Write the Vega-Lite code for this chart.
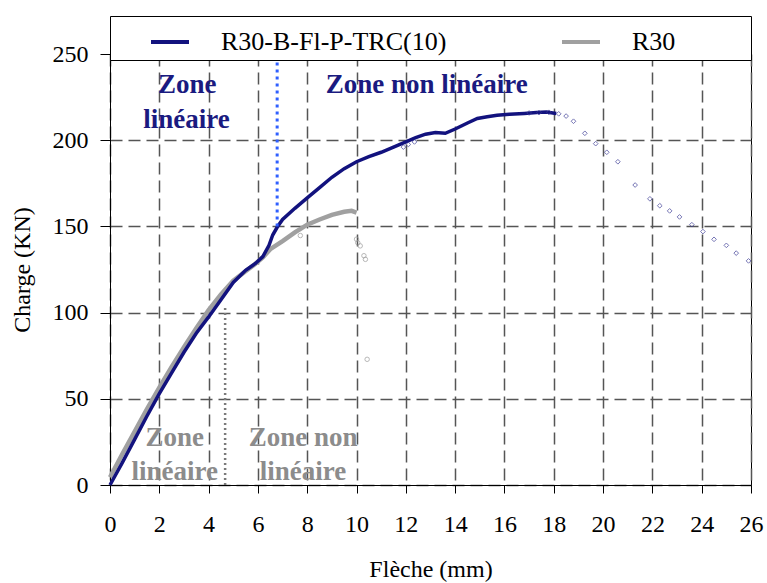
{
  "$schema": "https://vega.github.io/schema/vega-lite/v6.json",
  "width": 641,
  "height": 431,
  "autosize": {"type": "none"},
  "padding": {"left": 110, "top": 54, "right": 16, "bottom": 98},
  "background": "white",
  "config": {
    "font": "Liberation Serif",
    "view": {"stroke": "black", "strokeWidth": 1},
    "axis": {
      "labelFont": "Liberation Serif",
      "titleFont": "Liberation Serif",
      "labelFontSize": 24,
      "titleFontSize": 24,
      "titleFontWeight": "normal",
      "labelColor": "black",
      "titleColor": "black",
      "domainColor": "black",
      "tickColor": "black",
      "gridColor": "#555555",
      "gridDash": [12, 6],
      "gridWidth": 1.5,
      "labelFlush": false,
      "labelOverlap": false
    }
  },
  "datasets": {
    "curves": [
      {"series": "R30", "x": 0, "y": 4.5},
      {"series": "R30", "x": 0.5, "y": 18},
      {"series": "R30", "x": 1, "y": 31},
      {"series": "R30", "x": 1.5, "y": 44},
      {"series": "R30", "x": 2, "y": 56.5},
      {"series": "R30", "x": 2.5, "y": 68.5},
      {"series": "R30", "x": 3, "y": 80},
      {"series": "R30", "x": 3.5, "y": 91},
      {"series": "R30", "x": 4, "y": 101.5},
      {"series": "R30", "x": 4.5, "y": 110.5},
      {"series": "R30", "x": 5, "y": 118.5},
      {"series": "R30", "x": 5.5, "y": 124},
      {"series": "R30", "x": 5.9, "y": 128.3},
      {"series": "R30", "x": 6.2, "y": 132},
      {"series": "R30", "x": 6.5, "y": 136.8},
      {"series": "R30", "x": 7, "y": 141.5},
      {"series": "R30", "x": 7.5, "y": 146.5},
      {"series": "R30", "x": 8, "y": 151},
      {"series": "R30", "x": 8.5, "y": 154},
      {"series": "R30", "x": 9, "y": 156.7},
      {"series": "R30", "x": 9.5, "y": 158.5},
      {"series": "R30", "x": 9.8, "y": 159},
      {"series": "R30", "x": 10, "y": 158},
      {"series": "R30-B-Fl-P-TRC(10)", "x": 0, "y": 0},
      {"series": "R30-B-Fl-P-TRC(10)", "x": 0.5, "y": 13},
      {"series": "R30-B-Fl-P-TRC(10)", "x": 1, "y": 26.5},
      {"series": "R30-B-Fl-P-TRC(10)", "x": 1.5, "y": 40},
      {"series": "R30-B-Fl-P-TRC(10)", "x": 2, "y": 53},
      {"series": "R30-B-Fl-P-TRC(10)", "x": 2.5, "y": 65},
      {"series": "R30-B-Fl-P-TRC(10)", "x": 3, "y": 77},
      {"series": "R30-B-Fl-P-TRC(10)", "x": 3.5, "y": 88},
      {"series": "R30-B-Fl-P-TRC(10)", "x": 4, "y": 97.5},
      {"series": "R30-B-Fl-P-TRC(10)", "x": 4.5, "y": 107.5},
      {"series": "R30-B-Fl-P-TRC(10)", "x": 5, "y": 117.5},
      {"series": "R30-B-Fl-P-TRC(10)", "x": 5.5, "y": 124.5},
      {"series": "R30-B-Fl-P-TRC(10)", "x": 5.9, "y": 128.5},
      {"series": "R30-B-Fl-P-TRC(10)", "x": 6.2, "y": 132.5},
      {"series": "R30-B-Fl-P-TRC(10)", "x": 6.45, "y": 139},
      {"series": "R30-B-Fl-P-TRC(10)", "x": 6.6, "y": 145},
      {"series": "R30-B-Fl-P-TRC(10)", "x": 6.78, "y": 149.5},
      {"series": "R30-B-Fl-P-TRC(10)", "x": 7, "y": 154},
      {"series": "R30-B-Fl-P-TRC(10)", "x": 7.5, "y": 160.5},
      {"series": "R30-B-Fl-P-TRC(10)", "x": 8, "y": 166.5},
      {"series": "R30-B-Fl-P-TRC(10)", "x": 8.5, "y": 172.5},
      {"series": "R30-B-Fl-P-TRC(10)", "x": 9, "y": 178.5},
      {"series": "R30-B-Fl-P-TRC(10)", "x": 9.5, "y": 183.5},
      {"series": "R30-B-Fl-P-TRC(10)", "x": 10, "y": 187.5},
      {"series": "R30-B-Fl-P-TRC(10)", "x": 10.5, "y": 190.5},
      {"series": "R30-B-Fl-P-TRC(10)", "x": 11, "y": 193},
      {"series": "R30-B-Fl-P-TRC(10)", "x": 11.5, "y": 196},
      {"series": "R30-B-Fl-P-TRC(10)", "x": 12, "y": 199},
      {"series": "R30-B-Fl-P-TRC(10)", "x": 12.4, "y": 201.5},
      {"series": "R30-B-Fl-P-TRC(10)", "x": 12.8, "y": 203.5},
      {"series": "R30-B-Fl-P-TRC(10)", "x": 13.2, "y": 204.5},
      {"series": "R30-B-Fl-P-TRC(10)", "x": 13.6, "y": 204},
      {"series": "R30-B-Fl-P-TRC(10)", "x": 14, "y": 206.5},
      {"series": "R30-B-Fl-P-TRC(10)", "x": 14.5, "y": 210},
      {"series": "R30-B-Fl-P-TRC(10)", "x": 14.9, "y": 212.6},
      {"series": "R30-B-Fl-P-TRC(10)", "x": 15.3, "y": 213.6},
      {"series": "R30-B-Fl-P-TRC(10)", "x": 15.7, "y": 214.5},
      {"series": "R30-B-Fl-P-TRC(10)", "x": 16.2, "y": 215},
      {"series": "R30-B-Fl-P-TRC(10)", "x": 16.8, "y": 215.5},
      {"series": "R30-B-Fl-P-TRC(10)", "x": 17.3, "y": 216},
      {"series": "R30-B-Fl-P-TRC(10)", "x": 17.7, "y": 216.4},
      {"series": "R30-B-Fl-P-TRC(10)", "x": 18.1, "y": 215.5}
    ],
    "bluePts": [
      {"x": 11.9, "y": 196}, {"x": 12.1, "y": 197.5}, {"x": 12.35, "y": 199},
      {"x": 17.0, "y": 215.8}, {"x": 17.4, "y": 216}, {"x": 17.8, "y": 216.2}, {"x": 18.2, "y": 215.3},
      {"x": 18.5, "y": 214}, {"x": 18.8, "y": 211}, {"x": 19.26, "y": 204}, {"x": 19.7, "y": 198},
      {"x": 20.15, "y": 193}, {"x": 20.6, "y": 187.5}, {"x": 21.3, "y": 174}, {"x": 21.9, "y": 166},
      {"x": 22.3, "y": 162}, {"x": 22.7, "y": 159}, {"x": 23.1, "y": 155.5}, {"x": 23.6, "y": 151},
      {"x": 24.05, "y": 147}, {"x": 24.5, "y": 142.5}, {"x": 25.0, "y": 139}, {"x": 25.4, "y": 134.5},
      {"x": 25.9, "y": 130}
    ],
    "grayPts": [
      {"x": 7.72, "y": 144.7}, {"x": 10.0, "y": 142.6}, {"x": 10.05, "y": 140.5}, {"x": 10.15, "y": 138.7},
      {"x": 10.3, "y": 133}, {"x": 10.36, "y": 130.9}, {"x": 10.43, "y": 72.9}
    ],
    "rules": [
      {"zone": "blue", "x": 6.78, "y": 150, "y2": 250},
      {"zone": "gray", "x": 4.67, "y": 0, "y2": 104}
    ],
    "labels": [
      {"zone": "blue", "t": "Zone", "x": 3.13, "y": 232},
      {"zone": "blue", "t": "linéaire", "x": 3.1, "y": 211.6},
      {"zone": "blue", "t": "Zone non linéaire", "x": 12.85, "y": 232},
      {"zone": "gray", "t": "Zone", "x": 2.63, "y": 27},
      {"zone": "gray", "t": "linéaire", "x": 2.63, "y": 7.7},
      {"zone": "gray", "t": "Zone non", "x": 7.83, "y": 27},
      {"zone": "gray", "t": "linéaire", "x": 7.83, "y": 7.7}
    ]
  },
  "encoding": {
    "x": {
      "field": "x", "type": "quantitative",
      "scale": {"domain": [0, 26], "nice": false, "zero": false},
      "axis": {
        "title": "Flèche (mm)",
        "values": [0, 2, 4, 6, 8, 10, 12, 14, 16, 18, 20, 22, 24, 26],
        "tickSize": 8, "labelPadding": 19,
        "titleBaseline": "middle", "titleY": 84
      }
    },
    "y": {
      "field": "y", "type": "quantitative",
      "scale": {"domain": [0, 250], "nice": false},
      "axis": {
        "title": "Charge (KN)",
        "values": [0, 50, 100, 150, 200, 250],
        "tickSize": 10, "labelPadding": 12,
        "titleBaseline": "middle", "titleX": -88
      }
    }
  },
  "layer": [
    {
      "data": {"name": "curves"},
      "transform": [{"filter": "datum.series === 'R30'"}],
      "mark": {"type": "line", "strokeWidth": 4.5, "interpolate": "linear"},
      "encoding": {
        "color": {
          "field": "series", "type": "nominal",
          "scale": {"domain": ["R30-B-Fl-P-TRC(10)", "R30"], "range": ["#12127e", "#a0a0a0"]},
          "legend": {
            "title": "\u00a0",
            "titleOrient": "right",
            "titleFontSize": 10,
            "titlePadding": 71,
            "orient": "none",
            "legendX": 0,
            "legendY": -38,
            "direction": "horizontal",
            "symbolType": "stroke",
            "symbolSize": 1444,
            "symbolStrokeWidth": 4,
            "symbolOffset": 34,
            "labelOffset": 30,
            "labelFont": "Liberation Serif",
            "labelFontSize": 26,
            "labelColor": "black",
            "labelLimit": 400,
            "columnPadding": 79,
            "padding": 5,
            "strokeColor": "black",
            "fillColor": "white"
          }
        }
      }
    },
    {
      "data": {"name": "curves"},
      "transform": [{"filter": "datum.series !== 'R30'"}],
      "mark": {"type": "line", "strokeWidth": 3.5, "interpolate": "linear"},
      "encoding": {
        "color": {"field": "series", "type": "nominal"}
      }
    },
    {
      "data": {"name": "bluePts"},
      "mark": {"type": "point", "shape": "diamond", "filled": false, "color": "#3c3c96", "size": 22, "strokeWidth": 1}
    },
    {
      "data": {"name": "grayPts"},
      "mark": {"type": "point", "shape": "circle", "filled": false, "color": "#9a9a9a", "size": 20, "strokeWidth": 1}
    },
    {
      "data": {"name": "rules"},
      "transform": [{"filter": "datum.zone === 'blue'"}],
      "mark": {"type": "rule", "color": "#2f5fff", "strokeWidth": 3, "strokeDash": [3, 4]},
      "encoding": {"y2": {"field": "y2"}}
    },
    {
      "data": {"name": "rules"},
      "transform": [{"filter": "datum.zone === 'gray'"}],
      "mark": {"type": "rule", "color": "#7a7a7a", "strokeWidth": 2.5, "strokeDash": [2, 3]},
      "encoding": {"y2": {"field": "y2"}}
    },
    {
      "data": {"name": "labels"},
      "transform": [{"filter": "datum.zone === 'blue'"}],
      "mark": {"type": "text", "font": "Liberation Serif", "fontSize": 27, "fontWeight": "bold", "baseline": "middle", "color": "#1a1a80"},
      "encoding": {"text": {"field": "t"}}
    },
    {
      "data": {"name": "labels"},
      "transform": [{"filter": "datum.zone === 'gray'"}],
      "mark": {"type": "text", "font": "Liberation Serif", "fontSize": 27, "fontWeight": "bold", "baseline": "middle", "color": "#8c8c8c"},
      "encoding": {"text": {"field": "t"}}
    }
  ]
}
